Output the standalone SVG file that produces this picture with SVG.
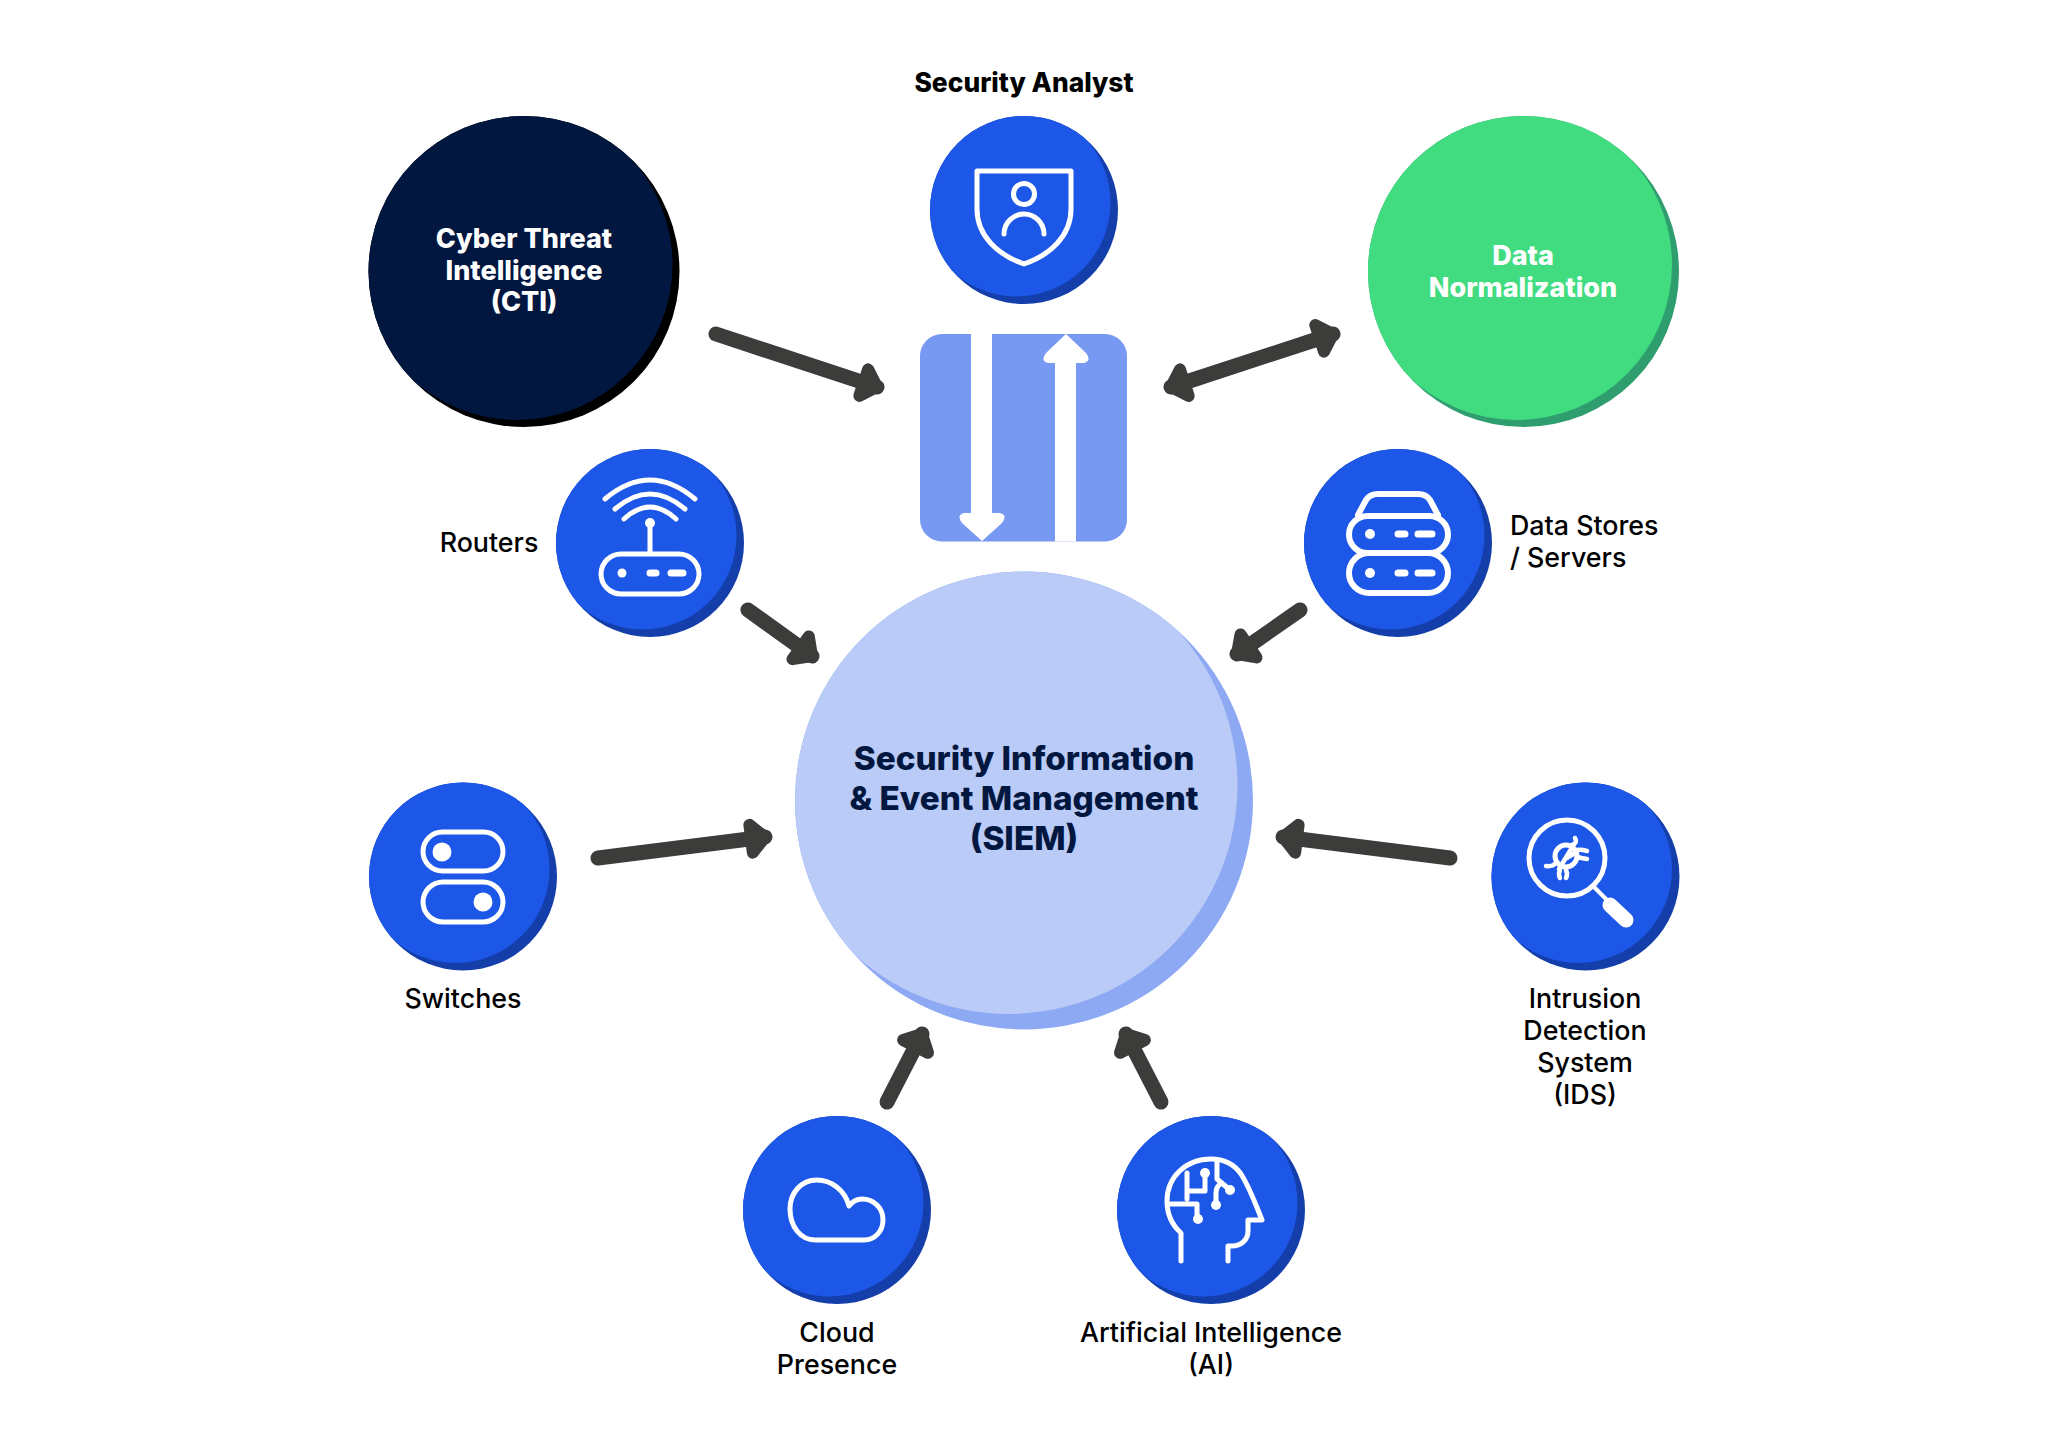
<svg xmlns="http://www.w3.org/2000/svg" width="2048" height="1448" viewBox="0 0 2048 1448">
<style>
text{font-family:"Inter","Liberation Sans",sans-serif;text-anchor:middle}
.lb{font-size:26.800px;font-weight:500;fill:#000}
.hd{font-size:27px;font-weight:800}
.ic{fill:none;stroke:#fff;stroke-width:5;stroke-linecap:round;stroke-linejoin:round}
.dot{fill:#fff}
.dash{fill:none;stroke:#fff;stroke-width:7;stroke-linecap:round}
.arrow{fill:none;stroke:#3c3c3a;stroke-width:15;stroke-linecap:round;marker-end:url(#head)}
</style>
<defs>
<marker id="head" viewBox="-30 -30 40 60" refX="0" refY="0" markerWidth="40" markerHeight="60" markerUnits="userSpaceOnUse" orient="auto-start-reverse">
<path d="M-14 -14L0 0L-14 14Z" fill="#3c3c3a" stroke="#3c3c3a" stroke-width="12" stroke-linejoin="round"/>
</marker>
<clipPath id="cs"><circle r="94"/></clipPath>
<clipPath id="csiem"><circle cx="1024" cy="799.500" r="229"/></clipPath>
<clipPath id="ccti"><circle cx="524" cy="270.500" r="155.500"/></clipPath>
<clipPath id="cnorm"><circle cx="1523.500" cy="270.500" r="155.500"/></clipPath>
<g id="disc"><circle r="94" fill="#143fab"/><circle cx="-7.500" cy="-7.500" r="94" fill="#1d57e8" clip-path="url(#cs)"/></g>
</defs>
<rect width="2048" height="1448" fill="#fff"/>

<g id="connectors">
<path class="arrow" d="M716 334L877 387"/>
<path class="arrow" d="M1171 387L1333 334" marker-start="url(#head)"/>
<path class="arrow" d="M748 610L812 656"/>
<path class="arrow" d="M1300 610L1237 654"/>
<path class="arrow" d="M598 858L765 837"/>
<path class="arrow" d="M1450 858L1283 837"/>
<path class="arrow" d="M887 1102L922 1034"/>
<path class="arrow" d="M1161 1102L1126 1034"/>
</g>

<g id="siem" transform="translate(0 1)">
<circle cx="1024" cy="799.500" r="229" fill="#8ea9f3"/>
<circle cx="1008.500" cy="784" r="229" fill="#b9cbf6" clip-path="url(#csiem)"/>
<text class="hd" style="font-size:33.300px" fill="#02173f"><tspan x="1024" y="769">Security Information</tspan><tspan x="1024" y="809">&amp; Event Management</tspan><tspan x="1024" y="849">(SIEM)</tspan></text>
</g>

<g id="log-store" transform="translate(0 1)">
<rect x="920" y="333" width="207" height="207.500" rx="22" fill="#7799f1"/>
<path d="M971 333H992V512H1000Q1008 514 1002 522L982 540L962 522Q956 514 964 512H971Z" fill="#fff"/>
<path d="M1055 540.500H1076V362H1084Q1092 360 1086 352L1066 333L1046 352Q1040 360 1048 362H1055Z" fill="#fff"/>
</g>

<g id="analyst" transform="translate(0 1)">
<text class="hd" style="font-size:26.400px" x="1024" y="91" fill="#000">Security Analyst</text>
<use href="#disc" transform="translate(1024 209)"/>
<path class="ic" d="M977 170H1071V208C1071 235 1050 254 1024 263C998 254 977 235 977 208Z"/>
<circle class="ic" cx="1024" cy="193" r="10.500"/>
<path class="ic" d="M1004 233a20 20 0 0 1 40 0"/>
</g>

<g id="cti" transform="translate(0 1)">
<circle cx="524" cy="270.500" r="155.500" fill="#000"/>
<circle cx="517" cy="263.500" r="155.500" fill="#02173f" clip-path="url(#ccti)"/>
<text class="hd" fill="#fff"><tspan x="524" y="247">Cyber Threat</tspan><tspan x="524" y="279">Intelligence</tspan><tspan x="524" y="310">(CTI)</tspan></text>
</g>

<g id="normalization" transform="translate(0 1)">
<circle cx="1523.500" cy="270.500" r="155.500" fill="#2f9e6f"/>
<circle cx="1516.500" cy="263.500" r="155.500" fill="#41dc80" clip-path="url(#cnorm)"/>
<text class="hd" fill="#fff"><tspan x="1523" y="264">Data</tspan><tspan x="1523" y="296">Normalization</tspan></text>
</g>

<g id="routers" transform="translate(0 1)">
<use href="#disc" transform="translate(650 542)"/>
<rect class="ic" x="601" y="553" width="98" height="40" rx="20"/>
<circle class="dot" cx="622" cy="572" r="4.500"/>
<path class="dash" d="M650 572H656M671 572H683"/>
<path class="ic" d="M650 552V522"/><circle class="dot" cx="650" cy="522" r="5"/>
<path class="ic" d="M605 498Q650 460 695 498M615 508Q650 478 685 508M624 518Q650 494 676 518"/>
<text class="lb" x="489" y="551">Routers</text>
</g>

<g id="servers" transform="translate(0 1)">
<use href="#disc" transform="translate(1398 542)"/>
<rect class="ic" style="stroke-width:6" x="1349" y="515" width="99" height="37" rx="18.500"/>
<rect class="ic" style="stroke-width:6" x="1349" y="552" width="99" height="40" rx="20"/>
<path class="ic" style="stroke-width:6" d="M1358 514L1366 499Q1370 493 1378 493H1418Q1426 493 1430 499L1438 514"/>
<circle class="dot" cx="1370" cy="533" r="5"/><circle class="dot" cx="1370" cy="572" r="5"/>
<path class="dash" d="M1398 533H1405M1418 533H1432M1398 572H1405M1418 572H1432"/>
<text class="lb" style="text-anchor:start"><tspan x="1510" y="534">Data Stores</tspan><tspan x="1510" y="566">/ Servers</tspan></text>
</g>

<g id="switches" transform="translate(0 1)">
<use href="#disc" transform="translate(463 875.500)"/>
<rect class="ic" x="423" y="831" width="80" height="39" rx="19.500"/>
<rect class="ic" x="423" y="881" width="80" height="40" rx="20"/>
<circle class="dot" cx="442" cy="851" r="9.500"/><circle class="dot" cx="483" cy="901" r="9.500"/>
<text class="lb" x="463" y="1007">Switches</text>
</g>

<g id="ids" transform="translate(0 1)">
<use href="#disc" transform="translate(1585.500 875.500)"/>
<circle class="ic" cx="1567" cy="857" r="38"/>
<path class="ic" style="stroke-width:4" d="M1595 887L1606 898"/>
<path class="ic" style="stroke-width:15" d="M1610 904L1626 919"/>
<circle class="ic" style="stroke-width:5" cx="1566" cy="855" r="11"/>
<path class="ic" style="stroke-width:4.500" d="M1559 868L1573 845M1565 858L1575 852M1572 844Q1578 842 1575 837M1577 849Q1581 848 1587 850M1577 856Q1581 857 1587 858M1556 862Q1552 866 1546 865M1560 869Q1558 873 1560 877M1566 869Q1568 873 1566 877"/>
<text class="lb"><tspan x="1585" y="1007">Intrusion</tspan><tspan x="1585" y="1039">Detection</tspan><tspan x="1585" y="1071">System</tspan><tspan x="1585" y="1103">(IDS)</tspan></text>
</g>

<g id="cloud" transform="translate(0 1)">
<use href="#disc" transform="translate(837 1209)"/>
<path class="ic" d="M815 1239H864C875 1239 883 1230 883 1219C883 1207 874 1198 862 1198C856 1198 852 1201 849 1205C845 1189 831 1179 817 1179C801 1179 790 1192 790 1208C790 1226 801 1239 815 1239Z"/>
<text class="lb"><tspan x="837" y="1341">Cloud</tspan><tspan x="837" y="1373">Presence</tspan></text>
</g>

<g id="ai" transform="translate(0 1)">
<use href="#disc" transform="translate(1211 1209)"/>
<path class="ic" d="M1181 1260V1232C1172 1224 1167 1213 1167 1200C1167 1176 1186 1158 1211 1158C1225 1158 1234 1163 1241 1173C1250 1187 1255 1202 1262 1219H1248V1230C1248 1239 1241 1245 1232 1245H1228V1260"/>
<path class="ic" d="M1187 1172V1198M1188 1190H1205V1172M1168 1203H1197V1218M1217 1160V1178L1230 1189M1216 1203V1192Q1216 1185 1222 1182"/>
<circle class="dot" cx="1205" cy="1172" r="5"/><circle class="dot" cx="1198" cy="1218" r="5"/><circle class="dot" cx="1230" cy="1189" r="5"/><circle class="dot" cx="1216" cy="1204" r="5"/>
<text class="lb"><tspan x="1211" y="1341">Artificial Intelligence</tspan><tspan x="1211" y="1373">(AI)</tspan></text>
</g>
</svg>
